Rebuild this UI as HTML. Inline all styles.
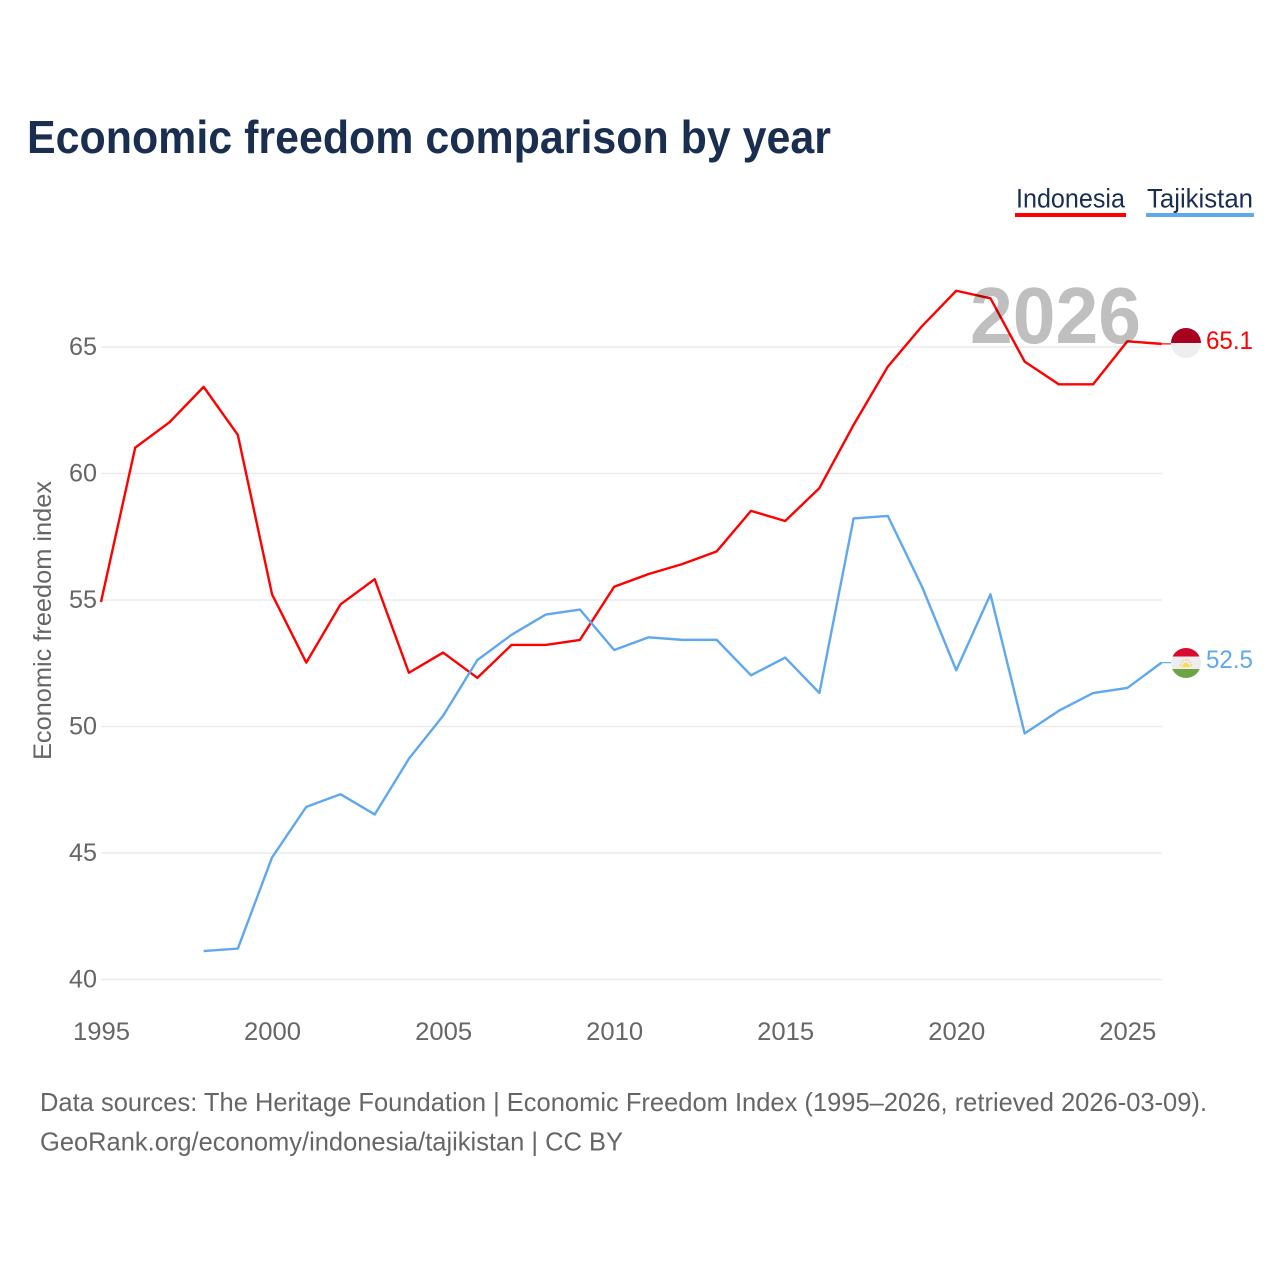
<!DOCTYPE html>
<html lang="en">
<head>
<meta charset="utf-8">
<title>Economic freedom comparison by year</title>
<style>
html,body{margin:0;padding:0;background:#fff}
svg{display:block}
text{font-family:"Liberation Sans",sans-serif}
</style>
</head>
<body>
<svg id="chart" xmlns="http://www.w3.org/2000/svg" width="1280" height="1280" viewBox="0 0 1280 1280">
  <rect width="1280" height="1280" fill="#fff"/>
  <text x="27" y="153" font-size="46" font-weight="700" fill="#1a2f50" textLength="804" lengthAdjust="spacingAndGlyphs">Economic freedom comparison by year</text>

  <g>
    <text x="1016" y="207.5" font-size="27" fill="#1a2f50" textLength="109" lengthAdjust="spacingAndGlyphs">Indonesia</text>
    <rect x="1015" y="213" width="111" height="4" fill="#ff0000"/>
  </g>
  <g>
    <text x="1147" y="207.5" font-size="27" fill="#1a2f50" textLength="106" lengthAdjust="spacingAndGlyphs">Tajikistan</text>
    <rect x="1146" y="213" width="108" height="4" fill="#5fa8ee"/>
  </g>

  <g id="grid"></g>
  <g id="yticks"></g>
  <g id="xticks"></g>
  <text transform="translate(51,760) rotate(-90)" x="0" y="0" font-size="25" fill="#666" textLength="279" lengthAdjust="spacingAndGlyphs">Economic freedom index</text>

  <g transform="translate(0,-0.6)">
    <path id="line-indonesia" fill="none" stroke="#ff0000" stroke-width="2.4" stroke-linejoin="round"/>
    <path id="line-tajikistan" fill="none" stroke="#5fa8ee" stroke-width="2.4" stroke-linejoin="round"/>
    <line id="connector-indonesia" stroke="#ff0000" stroke-width="1.2"/>
    <line id="connector-tajikistan" stroke="#5fa8ee" stroke-width="1.2"/>
  </g>
  <text x="970" y="343" font-size="80" font-weight="700" fill="#bfbfbf" textLength="171" lengthAdjust="spacingAndGlyphs" style="mix-blend-mode:multiply">2026</text>

  <defs>
    <clipPath id="clip-id"><circle cx="1186" cy="343" r="15"/></clipPath>
    <clipPath id="clip-tj"><circle cx="1186" cy="663" r="15"/></clipPath>
  </defs>
  <g clip-path="url(#clip-id)">
    <rect x="1170" y="327" width="32" height="16" fill="#a80020"/>
    <rect x="1170" y="343" width="32" height="16" fill="#eeeeee"/>
  </g>
  <g clip-path="url(#clip-tj)">
    <rect x="1170" y="647" width="32" height="9.5" fill="#d80a30"/>
    <rect x="1170" y="656.5" width="32" height="12.5" fill="#eeeeee"/>
    <rect x="1170" y="669" width="32" height="11" fill="#6da544"/>
    <path d="M1181.5 667 L1190.5 667 L1189 664.5 L1186 662.5 L1183 664.5 Z" fill="#ffda44"/>
    <circle cx="1180.5" cy="665" r="0.8" fill="#ffc46a"/>
    <circle cx="1181.5" cy="662.5" r="0.8" fill="#ffc46a"/>
    <circle cx="1183.5" cy="660.5" r="0.8" fill="#ffc46a"/>
    <circle cx="1186" cy="660" r="0.8" fill="#ffc46a"/>
    <circle cx="1188.5" cy="660.5" r="0.8" fill="#ffc46a"/>
    <circle cx="1190.5" cy="662.5" r="0.8" fill="#ffc46a"/>
    <circle cx="1191.5" cy="665" r="0.8" fill="#ffc46a"/>
  </g>
  <text id="value-indonesia" x="1206" y="349" font-size="25" fill="#ff0000" textLength="47" lengthAdjust="spacingAndGlyphs"></text>
  <text id="value-tajikistan" x="1206" y="668" font-size="25" fill="#5fa8ee" textLength="47" lengthAdjust="spacingAndGlyphs"></text>

  <text x="40" y="1111" font-size="26" fill="#666" textLength="1167" lengthAdjust="spacingAndGlyphs">Data sources: The Heritage Foundation | Economic Freedom Index (1995–2026, retrieved 2026-03-09).</text>
  <text x="40" y="1150.5" font-size="26" fill="#666" textLength="583" lengthAdjust="spacingAndGlyphs">GeoRank.org/economy/indonesia/tajikistan | CC BY</text>
</svg>
<script>
const years = [1995,1996,1997,1998,1999,2000,2001,2002,2003,2004,2005,2006,2007,2008,2009,2010,2011,2012,2013,2014,2015,2016,2017,2018,2019,2020,2021,2022,2023,2024,2025,2026];
const indonesia = [54.9,61.0,62.0,63.4,61.5,55.2,52.5,54.8,55.8,52.1,52.9,51.9,53.2,53.2,53.4,55.5,56.0,56.4,56.9,58.5,58.1,59.4,61.9,64.2,65.8,67.2,66.9,64.4,63.5,63.5,65.2,65.1];
const tajikistan = [null,null,null,41.1,41.2,44.8,46.8,47.3,46.5,48.7,50.4,52.6,53.6,54.4,54.6,53.0,53.5,53.4,53.4,52.0,52.7,51.3,58.2,58.3,55.5,52.2,55.2,49.7,50.6,51.3,51.5,52.5];
const yTickValues = [40,45,50,55,60,65];
const xTickValues = [1995,2000,2005,2010,2015,2020,2025];

const NS = 'http://www.w3.org/2000/svg';
function xScale(year){ return 101 + (year - 1995) * (1161.5 - 101) / 31; }
function yScale(value){ return 979.5 - (value - 40) * (979.5 - 347) / 25; }

function linePath(series){
  let d = '';
  let started = false;
  series.forEach(function(v, i){
    if (v === null) { return; }
    d += (started ? 'L' : 'M') + xScale(years[i]).toFixed(2) + ' ' + yScale(v).toFixed(2);
    started = true;
  });
  return d;
}

const gridGroup = document.getElementById('grid');
const yGroup = document.getElementById('yticks');
const xGroup = document.getElementById('xticks');

yTickValues.forEach(function(v){
  const ln = document.createElementNS(NS, 'line');
  
  
  ln.setAttribute('x1', 101);
  ln.setAttribute('x2', 1162);
  ln.setAttribute('y1', yScale(v));
  ln.setAttribute('y2', yScale(v));
  ln.setAttribute('stroke', '#ebebeb');
  ln.setAttribute('stroke-width', '1.5');
  gridGroup.appendChild(ln);

  const t = document.createElementNS(NS, 'text');
  
  
  t.setAttribute('x', 69);
  t.setAttribute('y', yScale(v) + 8);
  t.setAttribute('font-size', '25');
  t.setAttribute('fill', '#666');
  t.setAttribute('textLength', '28');
  t.setAttribute('lengthAdjust', 'spacingAndGlyphs');
  t.textContent = v;
  yGroup.appendChild(t);
});

xTickValues.forEach(function(v){
  const t = document.createElementNS(NS, 'text');
  
  
  t.setAttribute('x', xScale(v) - 28);
  t.setAttribute('y', 1040);
  t.setAttribute('font-size', '25');
  t.setAttribute('fill', '#666');
  t.setAttribute('textLength', '57');
  t.setAttribute('lengthAdjust', 'spacingAndGlyphs');
  t.textContent = v;
  xGroup.appendChild(t);
});

document.getElementById('line-indonesia').setAttribute('d', linePath(indonesia));
document.getElementById('line-tajikistan').setAttribute('d', linePath(tajikistan));

function setConnector(id, series){
  const last = series[series.length - 1];
  const c = document.getElementById(id);
  c.setAttribute('x1', xScale(years[years.length - 1]));
  c.setAttribute('x2', 1171);
  c.setAttribute('y1', yScale(last));
  c.setAttribute('y2', yScale(last));
}
setConnector('connector-indonesia', indonesia);
setConnector('connector-tajikistan', tajikistan);

document.getElementById('value-indonesia').textContent = indonesia[indonesia.length - 1].toFixed(1);
document.getElementById('value-tajikistan').textContent = tajikistan[tajikistan.length - 1].toFixed(1);
</script>
</body>
</html>
